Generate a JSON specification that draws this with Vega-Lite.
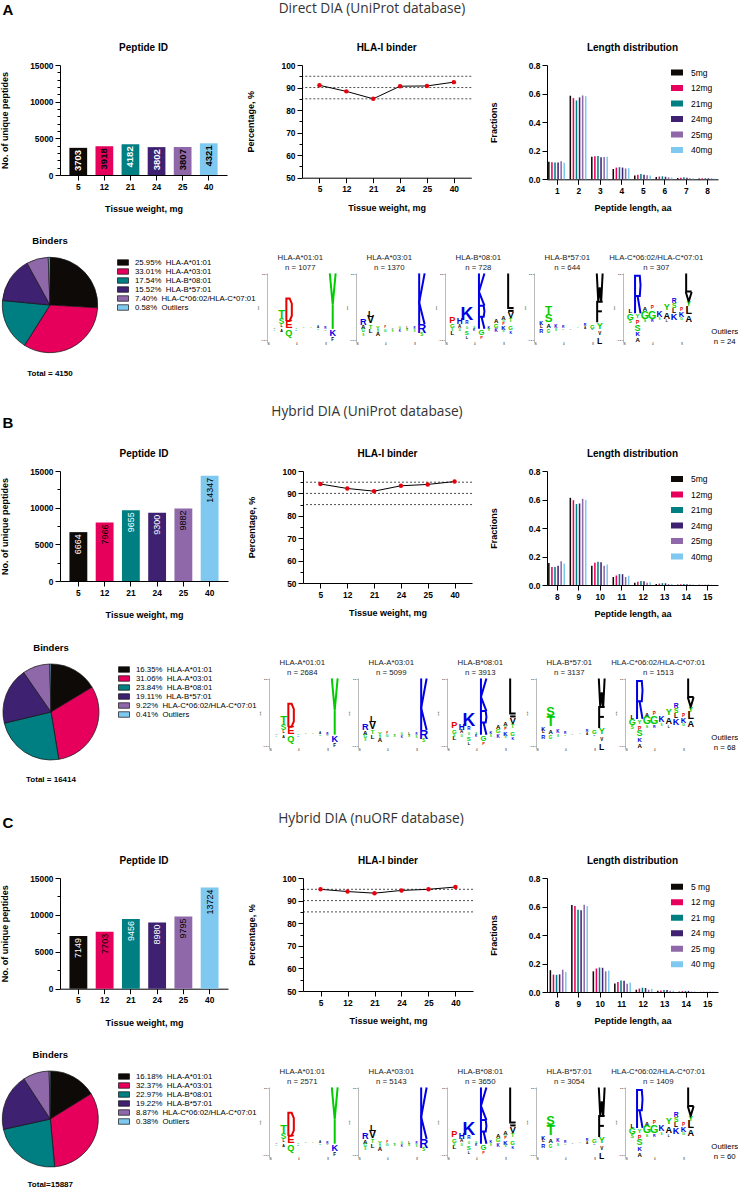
{"$schema":"https://vega.github.io/schema/vega-lite/v6.json","padding":0,"background":"white","spacing":0,"bounds":"flush","resolve":{"scale":{"color":"independent","fill":"independent","size":"independent"},"legend":{"color":"independent","fill":"independent"}},
"config":{"view":{"stroke":null},"font":"Liberation Sans","axis":{"grid":false,"labelFont":"Liberation Sans","labelFontWeight":"bold","labelFontSize":8.4,"labelColor":"black","titleFont":"Liberation Sans","titleFontWeight":"bold","titleFontSize":9,"titleColor":"black","domainColor":"black","tickColor":"black","tickSize":5,"labelPadding":2,"labelOverlap":false},"axisX":{"labelAngle":0},"style":{"lx":{"tickSize":0,"domain":false,"labelFontSize":2.8,"labelFontWeight":"normal","labelPadding":0.5},"ly":{"titleFontSize":2.5,"titleFontWeight":"normal","titlePadding":0.5,"tickSize":1.5,"tickColor":"#777","domainColor":"#777","tickWidth":0.5,"domainWidth":0.5,"labelFontSize":2.5,"labelFontWeight":"normal","labelPadding":0.5}},"title":{"font":"Liberation Sans","fontSize":10,"fontWeight":"bold","color":"black","anchor":"middle"},"legend":{"labelFont":"Liberation Sans","labelColor":"black"},"text":{"font":"Liberation Sans","color":"black"}},
"datasets":{
"pepA":[{"w":5,"v":3703},{"w":12,"v":3918},{"w":21,"v":4182},{"w":24,"v":3802},{"w":25,"v":3807},{"w":40,"v":4321}],
"pepB":[{"w":5,"v":6664},{"w":12,"v":7966},{"w":21,"v":9655},{"w":24,"v":9300},{"w":25,"v":9882},{"w":40,"v":14347}],
"pepC":[{"w":5,"v":7149},{"w":12,"v":7703},{"w":21,"v":9456},{"w":24,"v":8980},{"w":25,"v":9795},{"w":40,"v":13724}],
"hlaA":[{"w":5,"v":91},{"w":12,"v":88.3},{"w":21,"v":85},{"w":24,"v":90.6},{"w":25,"v":90.7},{"w":40,"v":92.4}],
"hlaB":[{"w":5,"v":94.2},{"w":12,"v":92.2},{"w":21,"v":91},{"w":24,"v":93.4},{"w":25,"v":94},{"w":40,"v":95.3}],
"hlaC":[{"w":5,"v":95},{"w":12,"v":94},{"w":21,"v":93.3},{"w":24,"v":94.5},{"w":25,"v":95},{"w":40,"v":96}],
"cut":[{"v":85},{"v":90},{"v":95}],
"lenA":[
{"l":1,"g":"5mg","v":0.122},{"l":1,"g":"12mg","v":0.12},{"l":1,"g":"21mg","v":0.118},{"l":1,"g":"24mg","v":0.118},{"l":1,"g":"25mg","v":0.126},{"l":1,"g":"40mg","v":0.116},
{"l":2,"g":"5mg","v":0.585},{"l":2,"g":"12mg","v":0.568},{"l":2,"g":"21mg","v":0.552},{"l":2,"g":"24mg","v":0.573},{"l":2,"g":"25mg","v":0.587},{"l":2,"g":"40mg","v":0.582},
{"l":3,"g":"5mg","v":0.158},{"l":3,"g":"12mg","v":0.162},{"l":3,"g":"21mg","v":0.163},{"l":3,"g":"24mg","v":0.155},{"l":3,"g":"25mg","v":0.156},{"l":3,"g":"40mg","v":0.158},
{"l":4,"g":"5mg","v":0.072},{"l":4,"g":"12mg","v":0.082},{"l":4,"g":"21mg","v":0.085},{"l":4,"g":"24mg","v":0.082},{"l":4,"g":"25mg","v":0.076},{"l":4,"g":"40mg","v":0.078},
{"l":5,"g":"5mg","v":0.026},{"l":5,"g":"12mg","v":0.032},{"l":5,"g":"21mg","v":0.037},{"l":5,"g":"24mg","v":0.032},{"l":5,"g":"25mg","v":0.028},{"l":5,"g":"40mg","v":0.027},
{"l":6,"g":"5mg","v":0.016},{"l":6,"g":"12mg","v":0.019},{"l":6,"g":"21mg","v":0.021},{"l":6,"g":"24mg","v":0.018},{"l":6,"g":"25mg","v":0.014},{"l":6,"g":"40mg","v":0.013},
{"l":7,"g":"5mg","v":0.009},{"l":7,"g":"12mg","v":0.011},{"l":7,"g":"21mg","v":0.014},{"l":7,"g":"24mg","v":0.011},{"l":7,"g":"25mg","v":0.008},{"l":7,"g":"40mg","v":0.008},
{"l":8,"g":"5mg","v":0.006},{"l":8,"g":"12mg","v":0.007},{"l":8,"g":"21mg","v":0.008},{"l":8,"g":"24mg","v":0.007},{"l":8,"g":"25mg","v":0.006},{"l":8,"g":"40mg","v":0.006}],
"lenB":[
{"l":8,"g":"5mg","v":0.155},{"l":8,"g":"12mg","v":0.127},{"l":8,"g":"21mg","v":0.127},{"l":8,"g":"24mg","v":0.135},{"l":8,"g":"25mg","v":0.167},{"l":8,"g":"40mg","v":0.15},
{"l":9,"g":"5mg","v":0.612},{"l":9,"g":"12mg","v":0.595},{"l":9,"g":"21mg","v":0.568},{"l":9,"g":"24mg","v":0.572},{"l":9,"g":"25mg","v":0.605},{"l":9,"g":"40mg","v":0.597},
{"l":10,"g":"5mg","v":0.135},{"l":10,"g":"12mg","v":0.157},{"l":10,"g":"21mg","v":0.163},{"l":10,"g":"24mg","v":0.16},{"l":10,"g":"25mg","v":0.135},{"l":10,"g":"40mg","v":0.143},
{"l":11,"g":"5mg","v":0.056},{"l":11,"g":"12mg","v":0.067},{"l":11,"g":"21mg","v":0.077},{"l":11,"g":"24mg","v":0.076},{"l":11,"g":"25mg","v":0.056},{"l":11,"g":"40mg","v":0.065},
{"l":12,"g":"5mg","v":0.016},{"l":12,"g":"12mg","v":0.023},{"l":12,"g":"21mg","v":0.028},{"l":12,"g":"24mg","v":0.027},{"l":12,"g":"25mg","v":0.016},{"l":12,"g":"40mg","v":0.02},
{"l":13,"g":"5mg","v":0.007},{"l":13,"g":"12mg","v":0.01},{"l":13,"g":"21mg","v":0.013},{"l":13,"g":"24mg","v":0.012},{"l":13,"g":"25mg","v":0.007},{"l":13,"g":"40mg","v":0.008},
{"l":14,"g":"5mg","v":0.003},{"l":14,"g":"12mg","v":0.005},{"l":14,"g":"21mg","v":0.007},{"l":14,"g":"24mg","v":0.006},{"l":14,"g":"25mg","v":0.003},{"l":14,"g":"40mg","v":0.004},
{"l":15,"g":"5mg","v":0.001},{"l":15,"g":"12mg","v":0.001},{"l":15,"g":"21mg","v":0.002},{"l":15,"g":"24mg","v":0.002},{"l":15,"g":"25mg","v":0.001},{"l":15,"g":"40mg","v":0.001}],
"lenC":[
{"l":8,"g":"5 mg","v":0.153},{"l":8,"g":"12 mg","v":0.122},{"l":8,"g":"21 mg","v":0.12},{"l":8,"g":"24 mg","v":0.124},{"l":8,"g":"25 mg","v":0.156},{"l":8,"g":"40 mg","v":0.14},
{"l":9,"g":"5 mg","v":0.61},{"l":9,"g":"12 mg","v":0.603},{"l":9,"g":"21 mg","v":0.578},{"l":9,"g":"24 mg","v":0.574},{"l":9,"g":"25 mg","v":0.612},{"l":9,"g":"40 mg","v":0.603},
{"l":10,"g":"5 mg","v":0.145},{"l":10,"g":"12 mg","v":0.165},{"l":10,"g":"21 mg","v":0.172},{"l":10,"g":"24 mg","v":0.17},{"l":10,"g":"25 mg","v":0.145},{"l":10,"g":"40 mg","v":0.15},
{"l":11,"g":"5 mg","v":0.06},{"l":11,"g":"12 mg","v":0.07},{"l":11,"g":"21 mg","v":0.08},{"l":11,"g":"24 mg","v":0.079},{"l":11,"g":"25 mg","v":0.058},{"l":11,"g":"40 mg","v":0.066},
{"l":12,"g":"5 mg","v":0.016},{"l":12,"g":"12 mg","v":0.024},{"l":12,"g":"21 mg","v":0.03},{"l":12,"g":"24 mg","v":0.028},{"l":12,"g":"25 mg","v":0.016},{"l":12,"g":"40 mg","v":0.022},
{"l":13,"g":"5 mg","v":0.008},{"l":13,"g":"12 mg","v":0.011},{"l":13,"g":"21 mg","v":0.014},{"l":13,"g":"24 mg","v":0.014},{"l":13,"g":"25 mg","v":0.008},{"l":13,"g":"40 mg","v":0.009},
{"l":14,"g":"5 mg","v":0.003},{"l":14,"g":"12 mg","v":0.006},{"l":14,"g":"21 mg","v":0.008},{"l":14,"g":"24 mg","v":0.008},{"l":14,"g":"25 mg","v":0.003},{"l":14,"g":"40 mg","v":0.004},
{"l":15,"g":"5 mg","v":0.001},{"l":15,"g":"12 mg","v":0.001},{"l":15,"g":"21 mg","v":0.002},{"l":15,"g":"24 mg","v":0.002},{"l":15,"g":"25 mg","v":0.001},{"l":15,"g":"40 mg","v":0.001}],
"pieA":[{"i":1,"a":"25.95% \u00a0HLA-A*01:01","v":25.95},{"i":2,"a":"33.01% \u00a0HLA-A*03:01","v":33.01},{"i":3,"a":"17.54% \u00a0HLA-B*08:01","v":17.54},{"i":4,"a":"15.52% \u00a0HLA-B*57:01","v":15.52},{"i":5,"a":"7.40% \u00a0HLA-C*06:02/HLA-C*07:01","v":7.4},{"i":6,"a":"0.58% \u00a0Outliers","v":0.58}],
"pieB":[{"i":1,"a":"16.35% \u00a0HLA-A*01:01","v":16.35},{"i":2,"a":"31.06% \u00a0HLA-A*03:01","v":31.06},{"i":3,"a":"23.84% \u00a0HLA-B*08:01","v":23.84},{"i":4,"a":"19.11% \u00a0HLA-B*57:01","v":19.11},{"i":5,"a":"9.22% \u00a0HLA-C*06:02/HLA-C*07:01","v":9.22},{"i":6,"a":"0.41% \u00a0Outliers","v":0.41}],
"pieC":[{"i":1,"a":"16.18% \u00a0HLA-A*01:01","v":16.18},{"i":2,"a":"32.37% \u00a0HLA-A*03:01","v":32.37},{"i":3,"a":"22.97% \u00a0HLA-B*08:01","v":22.97},{"i":4,"a":"19.22% \u00a0HLA-B*57:01","v":19.22},{"i":5,"a":"8.87% \u00a0HLA-C*06:02/HLA-C*07:01","v":8.87},{"i":6,"a":"0.38% \u00a0Outliers","v":0.38}],
"logoPath":[
{"k":"L1","g":"Y1","t":"Y","x":8.6,"y":2.53},{"k":"L1","g":"Y1","t":"Y","x":9,"y":1.1},{"k":"L1","g":"Y1","t":"Y","x":9.4,"y":2.53},{"k":"L1","g":"Y2","t":"Y","x":9,"y":1.1},{"k":"L1","g":"Y2","t":"Y","x":9,"y":0},
{"k":"L1","g":"D1","t":"D","x":2.65,"y":0.36},{"k":"L1","g":"D1","t":"D","x":2.65,"y":1.39},{"k":"L1","g":"D1","t":"D","x":3.1,"y":1.39},{"k":"L1","g":"D1","t":"D","x":3.4,"y":1.15},{"k":"L1","g":"D1","t":"D","x":3.4,"y":0.6},{"k":"L1","g":"D1","t":"D","x":3.1,"y":0.36},{"k":"L1","g":"D1","t":"D","x":2.65,"y":0.36},
{"k":"L2","g":"K1","t":"K","x":8.65,"y":0.21},{"k":"L2","g":"K1","t":"K","x":8.65,"y":2.53},{"k":"L2","g":"K2","t":"K","x":9.4,"y":2.53},{"k":"L2","g":"K2","t":"K","x":8.65,"y":1.2},{"k":"L2","g":"K2","t":"K","x":9.4,"y":0.21},
{"k":"L3","g":"K1","t":"K","x":4.65,"y":1.06},{"k":"L3","g":"K1","t":"K","x":4.65,"y":2.53},{"k":"L3","g":"K2","t":"K","x":5.4,"y":2.53},{"k":"L3","g":"K2","t":"K","x":4.65,"y":1.7},{"k":"L3","g":"K2","t":"K","x":5.4,"y":1.06},
{"k":"L3","g":"R1","t":"R","x":4.65,"y":0},{"k":"L3","g":"R1","t":"R","x":4.65,"y":1.06},{"k":"L3","g":"R1","t":"R","x":5.3,"y":1.06},{"k":"L3","g":"R1","t":"R","x":5.4,"y":0.8},{"k":"L3","g":"R1","t":"R","x":5.3,"y":0.55},{"k":"L3","g":"R1","t":"R","x":4.65,"y":0.55},{"k":"L3","g":"R2","t":"R","x":5,"y":0.55},{"k":"L3","g":"R2","t":"R","x":5.4,"y":0},
{"k":"L3","g":"L1","t":"L","x":8.65,"y":2.53},{"k":"L3","g":"L1","t":"L","x":8.65,"y":0.95},{"k":"L3","g":"L1","t":"L","x":9.4,"y":0.95},{"k":"L3","g":"L2","t":"L","x":8.65,"y":0.82},{"k":"L3","g":"L2","t":"L","x":9.4,"y":0.82},
{"k":"L4","g":"W1","t":"W","x":8.6,"y":2.53},{"k":"L4","g":"W1","t":"W","x":8.8,"y":1.24},{"k":"L4","g":"W1","t":"W","x":9,"y":1.9},{"k":"L4","g":"W1","t":"W","x":9.2,"y":1.24},{"k":"L4","g":"W1","t":"W","x":9.4,"y":2.53},
{"k":"L4","g":"F1","t":"F","x":8.65,"y":0.3},{"k":"L4","g":"F1","t":"F","x":8.65,"y":1.24},{"k":"L4","g":"F1","t":"F","x":9.4,"y":1.24},{"k":"L4","g":"F2","t":"F","x":8.65,"y":0.8},{"k":"L4","g":"F2","t":"F","x":9.3,"y":0.8},
{"k":"L5","g":"R1","t":"R","x":1.65,"y":0.71},{"k":"L5","g":"R1","t":"R","x":1.65,"y":2.42},{"k":"L5","g":"R1","t":"R","x":2.3,"y":2.42},{"k":"L5","g":"R1","t":"R","x":2.4,"y":2},{"k":"L5","g":"R1","t":"R","x":2.3,"y":1.5},{"k":"L5","g":"R1","t":"R","x":1.65,"y":1.5},{"k":"L5","g":"R2","t":"R","x":2,"y":1.5},{"k":"L5","g":"R2","t":"R","x":2.4,"y":0.71},
{"k":"L5","g":"L1","t":"L","x":8.65,"y":2.53},{"k":"L5","g":"L1","t":"L","x":8.65,"y":1.7},{"k":"L5","g":"L1","t":"L","x":9.4,"y":1.7},{"k":"L5","g":"V1","t":"V","x":8.6,"y":1.68},{"k":"L5","g":"V1","t":"V","x":9,"y":1.24},{"k":"L5","g":"V1","t":"V","x":9.4,"y":1.68}],
"logoText":[
{"k":"L1","p":2,"b":0.63,"t":"T","h":0.37},{"k":"L1","p":2,"b":0.31,"t":"S","h":0.27},{"k":"L1","p":2,"b":0.12,"t":"L","h":0.12},{"k":"L1","p":3,"b":0.18,"t":"E","h":0.36},{"k":"L1","p":3,"b":-0.2,"t":"Q","h":0.3},{"k":"L1","p":2,"b":-0.1,"t":"A","h":0.12},{"k":"L1","p":1,"b":0.03,"t":"A","h":0.08},{"k":"L1","p":1,"b":-0.04,"t":"G","h":0.06},{"k":"L1","p":4,"b":0.03,"t":"S","h":0.07},{"k":"L1","p":4,"b":-0.03,"t":"K","h":0.06},{"k":"L1","p":5,"b":0.02,"t":"N","h":0.05},{"k":"L1","p":6,"b":0.02,"t":"G","h":0.05},{"k":"L1","p":7,"b":0.08,"t":"A","h":0.1},{"k":"L1","p":7,"b":-0.03,"t":"S","h":0.08},{"k":"L1","p":8,"b":0.06,"t":"R","h":0.1},{"k":"L1","p":8,"b":-0.04,"t":"G","h":0.08},{"k":"L1","p":9,"b":-0.2,"t":"K","h":0.3},{"k":"L1","p":9,"b":-0.5,"t":"F","h":0.15},
{"k":"L2","p":1,"b":0.33,"t":"R","h":0.3},{"k":"L2","p":1,"b":0.07,"t":"A","h":0.2},{"k":"L2","p":1,"b":-0.1,"t":"G","h":0.15},{"k":"L2","p":1,"b":-0.25,"t":"S","h":0.1},{"k":"L2","p":2,"b":0.7,"t":"L","h":0.28},{"k":"L2","p":2,"b":0.39,"t":"V","h":0.35},{"k":"L2","p":2,"b":0.1,"t":"T","h":0.2},{"k":"L2","p":2,"b":-0.1,"t":"L","h":0.2},{"k":"L2","p":3,"b":0.05,"t":"Y","h":0.18},{"k":"L2","p":3,"b":-0.25,"t":"A","h":0.2},{"k":"L2","p":3,"b":-0.08,"t":"S","h":0.1},{"k":"L2","p":4,"b":0.04,"t":"P","h":0.09},{"k":"L2","p":4,"b":-0.08,"t":"G","h":0.12},{"k":"L2","p":5,"b":0.02,"t":"A","h":0.08},{"k":"L2","p":5,"b":-0.07,"t":"S","h":0.1},{"k":"L2","p":6,"b":0.03,"t":"G","h":0.09},{"k":"L2","p":6,"b":-0.08,"t":"K","h":0.1},{"k":"L2","p":7,"b":0.06,"t":"L","h":0.1},{"k":"L2","p":7,"b":-0.06,"t":"S","h":0.1},{"k":"L2","p":8,"b":0.02,"t":"R","h":0.09},{"k":"L2","p":8,"b":-0.1,"t":"S","h":0.1},{"k":"L2","p":9,"b":0,"t":"R","h":0.41},{"k":"L2","p":9,"b":-0.3,"t":"S","h":0.15},
{"k":"L3","p":1,"b":0.42,"t":"P","h":0.3},{"k":"L3","p":1,"b":0.14,"t":"G","h":0.2},{"k":"L3","p":1,"b":-0.17,"t":"L","h":0.2},{"k":"L3","p":1,"b":-0.05,"t":"S","h":0.1},{"k":"L3","p":2,"b":0.3,"t":"H","h":0.27},{"k":"L3","p":2,"b":0.1,"t":"A","h":0.15},{"k":"L3","p":2,"b":-0.05,"t":"G","h":0.1},{"k":"L3","p":3,"b":0.62,"t":"K","h":0.58},{"k":"L3","p":3,"b":0.27,"t":"R","h":0.15},{"k":"L3","p":3,"b":0.05,"t":"G","h":0.1},{"k":"L3","p":3,"b":-0.2,"t":"S","h":0.2},{"k":"L3","p":3,"b":-0.4,"t":"L","h":0.13},{"k":"L3","p":4,"b":0.05,"t":"S","h":0.1},{"k":"L3","p":4,"b":-0.05,"t":"K","h":0.1},{"k":"L3","p":5,"b":-0.2,"t":"G","h":0.25},{"k":"L3","p":5,"b":-0.4,"t":"P","h":0.13},{"k":"L3","p":6,"b":0.06,"t":"K","h":0.12},{"k":"L3","p":6,"b":-0.06,"t":"S","h":0.1},{"k":"L3","p":7,"b":0.35,"t":"A","h":0.2},{"k":"L3","p":7,"b":0.15,"t":"G","h":0.2},{"k":"L3","p":7,"b":-0.1,"t":"K","h":0.15},{"k":"L3","p":8,"b":0.5,"t":"A","h":0.2},{"k":"L3","p":8,"b":0.35,"t":"G","h":0.1},{"k":"L3","p":8,"b":0.24,"t":"P","h":0.12},{"k":"L3","p":8,"b":0.05,"t":"K","h":0.2},{"k":"L3","p":8,"b":-0.1,"t":"S","h":0.1},{"k":"L3","p":9,"b":0.62,"t":"V","h":0.3},{"k":"L3","p":9,"b":0.4,"t":"T","h":0.2},{"k":"L3","p":9,"b":0.05,"t":"G","h":0.2},{"k":"L3","p":9,"b":-0.2,"t":"K","h":0.12},
{"k":"L4","p":9,"b":0.15,"t":"Y","h":0.3},{"k":"L4","p":9,"b":-0.25,"t":"V","h":0.15},{"k":"L4","p":9,"b":-0.55,"t":"L","h":0.28},{"k":"L4","p":2,"b":0.13,"t":"A","h":0.2},{"k":"L4","p":2,"b":-0.15,"t":"G","h":0.15},{"k":"L4","p":1,"b":0.27,"t":"K","h":0.18},{"k":"L4","p":1,"b":0.1,"t":"L","h":0.15},{"k":"L4","p":1,"b":-0.1,"t":"R","h":0.18},{"k":"L4","p":3,"b":0.1,"t":"K","h":0.15},{"k":"L4","p":3,"b":-0.05,"t":"S","h":0.1},{"k":"L4","p":4,"b":0.08,"t":"R","h":0.11},{"k":"L4","p":4,"b":-0.03,"t":"G","h":0.08},{"k":"L4","p":5,"b":0.03,"t":"A","h":0.06},{"k":"L4","p":6,"b":0.02,"t":"S","h":0.05},{"k":"L4","p":7,"b":0.18,"t":"R","h":0.12},{"k":"L4","p":7,"b":0.03,"t":"A","h":0.1},{"k":"L4","p":8,"b":0.1,"t":"G","h":0.2},{"k":"L4","p":8,"b":-0.03,"t":"K","h":0.08},
{"k":"L4a","p":2,"b":0.82,"t":"T","h":0.38},{"k":"L4a","p":2,"b":0.45,"t":"S","h":0.38},
{"k":"L4b","p":2,"b":1,"t":"S","h":0.42},{"k":"L4b","p":2,"b":0.55,"t":"T","h":0.45},
{"k":"L5","p":1,"b":0.8,"t":"L","h":0.2},{"k":"L5","p":1,"b":0.55,"t":"G","h":0.3},{"k":"L5","p":1,"b":0.3,"t":"S","h":0.15},{"k":"L5","p":2,"b":0.59,"t":"Y","h":0.2},{"k":"L5","p":2,"b":0.3,"t":"P","h":0.18},{"k":"L5","p":2,"b":0.06,"t":"S","h":0.3},{"k":"L5","p":2,"b":-0.25,"t":"K","h":0.2},{"k":"L5","p":2,"b":-0.5,"t":"A","h":0.2},{"k":"L5","p":3,"b":0.9,"t":"A","h":0.2},{"k":"L5","p":3,"b":0.6,"t":"G","h":0.35},{"k":"L5","p":3,"b":0.35,"t":"S","h":0.12},{"k":"L5","p":4,"b":0.93,"t":"P","h":0.15},{"k":"L5","p":4,"b":0.6,"t":"G","h":0.35},{"k":"L5","p":4,"b":0.35,"t":"R","h":0.12},{"k":"L5","p":5,"b":0.65,"t":"K","h":0.27},{"k":"L5","p":5,"b":0.45,"t":"S","h":0.1},{"k":"L5","p":6,"b":1,"t":"Y","h":0.3},{"k":"L5","p":6,"b":0.6,"t":"A","h":0.3},{"k":"L5","p":6,"b":0.35,"t":"L","h":0.1},{"k":"L5","p":7,"b":1.28,"t":"R","h":0.22},{"k":"L5","p":7,"b":1.05,"t":"S","h":0.22},{"k":"L5","p":7,"b":0.82,"t":"L","h":0.22},{"k":"L5","p":7,"b":0.55,"t":"K","h":0.3},{"k":"L5","p":8,"b":0.86,"t":"P","h":0.15},{"k":"L5","p":8,"b":0.62,"t":"K","h":0.25},{"k":"L5","p":8,"b":0.45,"t":"G","h":0.12},{"k":"L5","p":9,"b":1.13,"t":"Y","h":0.22},{"k":"L5","p":9,"b":0.82,"t":"L","h":0.35},{"k":"L5","p":9,"b":0.47,"t":"A","h":0.3}]
},
"vconcat":[
{"bounds":"flush","spacing":0,"hconcat":[
{"width":20,"height":20,"data":{"values":[{"t":"A"}]},"mark":{"type":"text","fontSize":15,"fontWeight":"bold","dx":-3},"encoding":{"text":{"field":"t","type":"nominal"}}},
{"width":702,"height":20,"data":{"values":[{"t":"Direct DIA (UniProt database)"}]},"mark":{"type":"text","font":"Open Sans","fontSize":13.7,"color":"#333","dy":-1.5},"encoding":{"text":{"field":"t","type":"nominal"}}}]},
{"width":1,"height":65,"data":{"values":[]},"mark":"text"},
{"bounds":"flush","spacing":0,"resolve":{"scale":{"color":"independent","fill":"independent","size":"independent"},"legend":{"color":"independent","fill":"independent"}},"hconcat":[
{"width":59,"height":10,"data":{"values":[]},"mark":"text"},
{"width":167,"height":110,"title":{"text":"Peptide ID","offset":8.5},"data":{"name":"pepA"},"encoding":{"x":{"field":"w","type":"ordinal","scale":{"paddingInner":0.32,"paddingOuter":0.36},"axis":{"title":"Tissue weight, mg","titlePadding":14}},"y":{"field":"v","type":"quantitative","scale":{"domain":[0,15000],"nice":false},"axis":{"title":"No. of unique peptides","titlePadding":20,"values":[0,1000,2000,3000,4000,5000,6000,7000,8000,9000,10000,11000,12000,13000,14000,15000],"labelExpr":"datum.value%5000==0?''+datum.value:''","tickSize":{"condition":{"test":"datum.value%5000==0","value":5},"value":3}}}},"layer":[{"mark":"bar","encoding":{"color":{"field":"w","type":"ordinal","scale":{"domain":[5,12,21,24,25,40],"range":["#0d0a07","#e6005c","#007f83","#3f2172","#8e68a9","#7fc8f0"]},"legend":null}}},{"mark":{"type":"text","angle":270,"align":"right","baseline":"middle","dx":-2,"fontSize":9.5,"fontWeight":"bold"},"encoding":{"text":{"field":"v","type":"quantitative","format":"d"},"color":{"condition":{"test":"indexof([5,21,24],datum.w)>=0","value":"white"},"value":"black"}}}]},
{"width":74.7,"height":10,"data":{"values":[]},"mark":"text"},
{"width":169.3,"height":112.7,"title":{"text":"HLA-I binder","offset":8},"encoding":{"y":{"field":"v","type":"quantitative","scale":{"domain":[50,100],"nice":false},"axis":{"title":"Percentage, %","titlePadding":26,"values":[50,55,60,65,70,75,80,85,90,95,100],"labelExpr":"datum.value%10==0?''+datum.value:''","tickSize":{"condition":{"test":"datum.value%10==0","value":5},"value":3}}}},"layer":[{"data":{"name":"cut"},"mark":{"type":"rule","strokeDash":[2,2],"strokeWidth":0.7,"color":"black"},"encoding":{}},{"data":{"name":"hlaA"},"mark":{"type":"line","color":"black","strokeWidth":1},"encoding":{"x":{"field":"w","type":"ordinal","scale":{"type":"point","padding":0.65},"axis":{"title":"Tissue weight, mg","titlePadding":10}}}},{"data":{"name":"hlaA"},"mark":{"type":"point","filled":true,"color":"#e8000f","size":20,"opacity":1},"encoding":{"x":{"field":"w","type":"ordinal"}}}]},
{"width":75,"height":10,"data":{"values":[]},"mark":"text"},
{"width":171,"height":114.3,"title":{"text":"Length distribution","offset":8},"data":{"name":"lenA"},"mark":"bar","encoding":{"x":{"field":"l","type":"ordinal","scale":{"paddingInner":0.14,"paddingOuter":0.05},"axis":{"title":"Peptide length, aa","titlePadding":9}},"xOffset":{"field":"g","type":"nominal","sort":["5mg","12mg","21mg","24mg","25mg","40mg"],"scale":{"paddingInner":0,"paddingOuter":0}},"y":{"field":"v","type":"quantitative","scale":{"domain":[0,0.8],"nice":false},"axis":{"title":"Fractions","titlePadding":30,"values":[0,0.2,0.4,0.6,0.8],"format":".1f"}},"color":{"field":"g","type":"nominal","scale":{"domain":["5mg","12mg","21mg","24mg","25mg","40mg"],"range":["#0d0a07","#e6005c","#007f83","#3f2172","#8e68a9","#7fc8f0"]},"legend":{"orient":"none","legendX":123,"legendY":1.5,"title":null,"symbolType":"M-1,-0.5H1V0.5H-1Z","symbolSize":144,"clipHeight":12,"rowPadding":3.5,"labelFontSize":8.5,"labelOffset":7}}}}]},
{"width":1,"height":191,"data":{"values":[]},"mark":"text"},
{"bounds":"flush","spacing":0,"resolve":{"scale":{"color":"independent","fill":"independent","size":"independent"},"legend":{"color":"independent","fill":"independent"}},"hconcat":[
{"width":98,"height":98,"title":{"text":"Binders","offset":10,"fontSize":9.5},"layer":[{"data":{"name":"pieA"},"mark":{"type":"arc","filled":true,"outerRadius":47.7,"stroke":"#111","strokeWidth":0.7},"encoding":{"theta":{"field":"v","type":"quantitative"},"order":{"field":"i","type":"quantitative"},"fill":{"field":"a","type":"nominal","scale":{"domain":["25.95% \u00a0HLA-A*01:01","33.01% \u00a0HLA-A*03:01","17.54% \u00a0HLA-B*08:01","15.52% \u00a0HLA-B*57:01","7.40% \u00a0HLA-C*06:02/HLA-C*07:01","0.58% \u00a0Outliers"],"range":["#0d0a07","#e6005c","#007f83","#3f2172","#8e68a9","#7fc8f0"]},"legend":{"orient":"none","legendX":116,"legendY":2,"title":null,"symbolType":"M-1,-0.5H1V0.5H-1Z","symbolSize":121,"clipHeight":9,"rowPadding":0,"labelFontSize":7.8,"labelOffset":6,"labelLimit":200,"symbolStrokeColor":"#111","symbolStrokeWidth":0.7}}}},{"data":{"values":[{"t":"Total = 4150"}]},"mark":{"type":"text","dy":69,"fontSize":8,"fontWeight":"bold"},"encoding":{"text":{"field":"t","type":"nominal"}}}]}]},
{"width":1,"height":17,"data":{"values":[]},"mark":"text"},
{"bounds":"flush","spacing":0,"resolve":{"scale":{"color":"independent","fill":"independent","size":"independent"},"legend":{"color":"independent","fill":"independent"}},"hconcat":[
{"width":266,"height":10,"data":{"values":[]},"mark":"text"},
{"width":88.5,"height":69,"title":{"text":["HLA-A*01:01","n = 1077"],"dx":-11,"offset":-2,"fontSize":7.8,"fontWeight":"normal","lineHeight":9.5,"color":"#222"},"encoding":{"color":{"field":"t","type":"nominal","scale":{"domain":["K","R","H","D","E","P","S","T","Y","G","N","Q","A","L","V","F","W"],"range":["#0000e6","#0000e6","#0000e6","#e60000","#e60000","#e60000","#00cc00","#00cc00","#00cc00","#00cc00","#00cc00","#00cc00","black","black","black","black","black"]},"legend":null}},"layer":[{"data":{"name":"logoPath"},"transform":[{"filter":{"field":"k","equal":"L1"}}],"mark":{"type":"line","strokeWidth":2},"encoding":{"x":{"field":"x","type":"quantitative","scale":{"domain":[0,12.12],"nice":false},"axis":{"style":"lx","title":null,"values":[0,1,2,3,4,5,6,7,8,9,10],"labelExpr":"datum.value==0?'N':datum.value==10?'C':datum.label"}},"y":{"field":"y","type":"quantitative","scale":{"domain":[-0.6,2.55],"nice":false},"axis":{"style":"ly","title":"Bits","values":[-0.5,0,0.5,1,1.5,2,2.5],"format":".1f"}},"detail":{"field":"g","type":"nominal"},"order":{"value":null}}},{"data":{"name":"logoText"},"transform":[{"filter":{"field":"k","oneOf":["L1"]}}],"mark":{"type":"text","fontWeight":"bold","baseline":"middle"},"encoding":{"x":{"field":"p","type":"quantitative"},"y":{"field":"b","type":"quantitative"},"text":{"field":"t","type":"nominal"},"size":{"field":"h","type":"quantitative","scale":{"domain":[0,1],"range":[0,30.5]},"legend":null}}}]},
{"width":88.5,"height":69,"title":{"text":["HLA-A*03:01","n = 1370"],"dx":-11,"offset":-2,"fontSize":7.8,"fontWeight":"normal","lineHeight":9.5,"color":"#222"},"encoding":{"color":{"field":"t","type":"nominal","scale":{"domain":["K","R","H","D","E","P","S","T","Y","G","N","Q","A","L","V","F","W"],"range":["#0000e6","#0000e6","#0000e6","#e60000","#e60000","#e60000","#00cc00","#00cc00","#00cc00","#00cc00","#00cc00","#00cc00","black","black","black","black","black"]},"legend":null}},"layer":[{"data":{"name":"logoPath"},"transform":[{"filter":{"field":"k","equal":"L2"}}],"mark":{"type":"line","strokeWidth":2},"encoding":{"x":{"field":"x","type":"quantitative","scale":{"domain":[0,12.12],"nice":false},"axis":{"style":"lx","title":null,"values":[0,1,2,3,4,5,6,7,8,9,10],"labelExpr":"datum.value==0?'N':datum.value==10?'C':datum.label"}},"y":{"field":"y","type":"quantitative","scale":{"domain":[-0.6,2.55],"nice":false},"axis":{"style":"ly","title":"Bits","values":[-0.5,0,0.5,1,1.5,2,2.5],"format":".1f"}},"detail":{"field":"g","type":"nominal"},"order":{"value":null}}},{"data":{"name":"logoText"},"transform":[{"filter":{"field":"k","oneOf":["L2"]}}],"mark":{"type":"text","fontWeight":"bold","baseline":"middle"},"encoding":{"x":{"field":"p","type":"quantitative"},"y":{"field":"b","type":"quantitative"},"text":{"field":"t","type":"nominal"},"size":{"field":"h","type":"quantitative","scale":{"domain":[0,1],"range":[0,30.5]},"legend":null}}}]},
{"width":88.5,"height":69,"title":{"text":["HLA-B*08:01","n = 728"],"dx":-11,"offset":-2,"fontSize":7.8,"fontWeight":"normal","lineHeight":9.5,"color":"#222"},"encoding":{"color":{"field":"t","type":"nominal","scale":{"domain":["K","R","H","D","E","P","S","T","Y","G","N","Q","A","L","V","F","W"],"range":["#0000e6","#0000e6","#0000e6","#e60000","#e60000","#e60000","#00cc00","#00cc00","#00cc00","#00cc00","#00cc00","#00cc00","black","black","black","black","black"]},"legend":null}},"layer":[{"data":{"name":"logoPath"},"transform":[{"filter":{"field":"k","equal":"L3"}}],"mark":{"type":"line","strokeWidth":2},"encoding":{"x":{"field":"x","type":"quantitative","scale":{"domain":[0,12.12],"nice":false},"axis":{"style":"lx","title":null,"values":[0,1,2,3,4,5,6,7,8,9,10],"labelExpr":"datum.value==0?'N':datum.value==10?'C':datum.label"}},"y":{"field":"y","type":"quantitative","scale":{"domain":[-0.6,2.55],"nice":false},"axis":{"style":"ly","title":"Bits","values":[-0.5,0,0.5,1,1.5,2,2.5],"format":".1f"}},"detail":{"field":"g","type":"nominal"},"order":{"value":null}}},{"data":{"name":"logoText"},"transform":[{"filter":{"field":"k","oneOf":["L3"]}}],"mark":{"type":"text","fontWeight":"bold","baseline":"middle"},"encoding":{"x":{"field":"p","type":"quantitative"},"y":{"field":"b","type":"quantitative"},"text":{"field":"t","type":"nominal"},"size":{"field":"h","type":"quantitative","scale":{"domain":[0,1],"range":[0,30.5]},"legend":null}}}]},
{"width":88.5,"height":69,"title":{"text":["HLA-B*57:01","n = 644"],"dx":-11,"offset":-2,"fontSize":7.8,"fontWeight":"normal","lineHeight":9.5,"color":"#222"},"encoding":{"color":{"field":"t","type":"nominal","scale":{"domain":["K","R","H","D","E","P","S","T","Y","G","N","Q","A","L","V","F","W"],"range":["#0000e6","#0000e6","#0000e6","#e60000","#e60000","#e60000","#00cc00","#00cc00","#00cc00","#00cc00","#00cc00","#00cc00","black","black","black","black","black"]},"legend":null}},"layer":[{"data":{"name":"logoPath"},"transform":[{"filter":{"field":"k","equal":"L4"}}],"mark":{"type":"line","strokeWidth":2},"encoding":{"x":{"field":"x","type":"quantitative","scale":{"domain":[0,12.12],"nice":false},"axis":{"style":"lx","title":null,"values":[0,1,2,3,4,5,6,7,8,9,10],"labelExpr":"datum.value==0?'N':datum.value==10?'C':datum.label"}},"y":{"field":"y","type":"quantitative","scale":{"domain":[-0.6,2.55],"nice":false},"axis":{"style":"ly","title":"Bits","values":[-0.5,0,0.5,1,1.5,2,2.5],"format":".1f"}},"detail":{"field":"g","type":"nominal"},"order":{"value":null}}},{"data":{"name":"logoText"},"transform":[{"filter":{"field":"k","oneOf":["L4","L4a"]}}],"mark":{"type":"text","fontWeight":"bold","baseline":"middle"},"encoding":{"x":{"field":"p","type":"quantitative"},"y":{"field":"b","type":"quantitative"},"text":{"field":"t","type":"nominal"},"size":{"field":"h","type":"quantitative","scale":{"domain":[0,1],"range":[0,30.5]},"legend":null}}}]},
{"width":88.5,"height":69,"title":{"text":["HLA-C*06:02/HLA-C*07:01","n = 307"],"dx":-11,"offset":-2,"fontSize":7.8,"fontWeight":"normal","lineHeight":9.5,"color":"#222"},"encoding":{"color":{"field":"t","type":"nominal","scale":{"domain":["K","R","H","D","E","P","S","T","Y","G","N","Q","A","L","V","F","W"],"range":["#0000e6","#0000e6","#0000e6","#e60000","#e60000","#e60000","#00cc00","#00cc00","#00cc00","#00cc00","#00cc00","#00cc00","black","black","black","black","black"]},"legend":null}},"layer":[{"data":{"name":"logoPath"},"transform":[{"filter":{"field":"k","equal":"L5"}}],"mark":{"type":"line","strokeWidth":2},"encoding":{"x":{"field":"x","type":"quantitative","scale":{"domain":[0,12.12],"nice":false},"axis":{"style":"lx","title":null,"values":[0,1,2,3,4,5,6,7,8,9,10],"labelExpr":"datum.value==0?'N':datum.value==10?'C':datum.label"}},"y":{"field":"y","type":"quantitative","scale":{"domain":[-0.6,2.55],"nice":false},"axis":{"style":"ly","title":"Bits","values":[-0.5,0,0.5,1,1.5,2,2.5],"format":".1f"}},"detail":{"field":"g","type":"nominal"},"order":{"value":null}}},{"data":{"name":"logoText"},"transform":[{"filter":{"field":"k","oneOf":["L5"]}}],"mark":{"type":"text","fontWeight":"bold","baseline":"middle"},"encoding":{"x":{"field":"p","type":"quantitative"},"y":{"field":"b","type":"quantitative"},"text":{"field":"t","type":"nominal"},"size":{"field":"h","type":"quantitative","scale":{"domain":[0,1],"range":[0,30.5]},"legend":null}}}]},
{"width":29.5,"height":69,"data":{"values":[{"t":"Outliers\nn = 24"}]},"mark":{"type":"text","lineBreak":"\n","fontSize":7.8,"dx":-2,"dy":24.5,"lineHeight":9.5,"baseline":"middle"},"encoding":{"text":{"field":"t","type":"nominal"}}}]},
{"width":1,"height":129,"data":{"values":[]},"mark":"text"},
{"bounds":"flush","spacing":0,"hconcat":[
{"width":20,"height":20,"data":{"values":[{"t":"B"}]},"mark":{"type":"text","fontSize":15,"fontWeight":"bold","dx":-3,"dy":11},"encoding":{"text":{"field":"t","type":"nominal"}}},
{"width":692,"height":20,"data":{"values":[{"t":"Hybrid DIA (UniProt database)"}]},"mark":{"type":"text","font":"Open Sans","fontSize":13.7,"color":"#333"},"encoding":{"text":{"field":"t","type":"nominal"}}}]},
{"width":1,"height":69,"data":{"values":[]},"mark":"text"},
{"bounds":"flush","spacing":0,"resolve":{"scale":{"color":"independent","fill":"independent","size":"independent"},"legend":{"color":"independent","fill":"independent"}},"hconcat":[
{"width":59,"height":10,"data":{"values":[]},"mark":"text"},
{"width":168,"height":110,"title":{"text":"Peptide ID","offset":8.5},"data":{"name":"pepB"},"encoding":{"x":{"field":"w","type":"ordinal","scale":{"paddingInner":0.32,"paddingOuter":0.36},"axis":{"title":"Tissue weight, mg","titlePadding":14}},"y":{"field":"v","type":"quantitative","scale":{"domain":[0,15000],"nice":false},"axis":{"title":"No. of unique peptides","titlePadding":20,"values":[0,2500,5000,7500,10000,12500,15000],"labelExpr":"datum.value%5000==0?''+datum.value:''","tickSize":{"condition":{"test":"datum.value%5000==0","value":5},"value":3}}}},"layer":[{"mark":"bar","encoding":{"color":{"field":"w","type":"ordinal","scale":{"domain":[5,12,21,24,25,40],"range":["#0d0a07","#e6005c","#007f83","#3f2172","#8e68a9","#7fc8f0"]},"legend":null}}},{"mark":{"type":"text","angle":270,"align":"right","baseline":"middle","dx":-2,"fontSize":9},"encoding":{"text":{"field":"v","type":"quantitative","format":"d"},"color":{"condition":{"test":"indexof([5,21,24],datum.w)>=0","value":"white"},"value":"black"}}}]},
{"width":75,"height":10,"data":{"values":[]},"mark":"text"},
{"width":169,"height":112,"title":{"text":"HLA-I binder","offset":8},"encoding":{"y":{"field":"v","type":"quantitative","scale":{"domain":[50,100],"nice":false},"axis":{"title":"Percentage, %","titlePadding":26,"values":[50,55,60,65,70,75,80,85,90,95,100],"labelExpr":"datum.value%10==0?''+datum.value:''","tickSize":{"condition":{"test":"datum.value%10==0","value":5},"value":3}}}},"layer":[{"data":{"name":"cut"},"mark":{"type":"rule","strokeDash":[2,2],"strokeWidth":0.7,"color":"black"},"encoding":{}},{"data":{"name":"hlaB"},"mark":{"type":"line","color":"black","strokeWidth":1},"encoding":{"x":{"field":"w","type":"ordinal","scale":{"type":"point","padding":0.65},"axis":{"title":"Tissue weight, mg","titlePadding":10}}}},{"data":{"name":"hlaB"},"mark":{"type":"point","filled":true,"color":"#e8000f","size":20,"opacity":1},"encoding":{"x":{"field":"w","type":"ordinal"}}}]},
{"width":75,"height":10,"data":{"values":[]},"mark":"text"},
{"width":171,"height":114,"title":{"text":"Length distribution","offset":8},"data":{"name":"lenB"},"mark":"bar","encoding":{"x":{"field":"l","type":"ordinal","scale":{"paddingInner":0.14,"paddingOuter":0.05},"axis":{"title":"Peptide length, aa","titlePadding":9}},"xOffset":{"field":"g","type":"nominal","sort":["5mg","12mg","21mg","24mg","25mg","40mg"],"scale":{"paddingInner":0,"paddingOuter":0}},"y":{"field":"v","type":"quantitative","scale":{"domain":[0,0.8],"nice":false},"axis":{"title":"Fractions","titlePadding":30,"values":[0,0.2,0.4,0.6,0.8],"format":".1f"}},"color":{"field":"g","type":"nominal","scale":{"domain":["5mg","12mg","21mg","24mg","25mg","40mg"],"range":["#0d0a07","#e6005c","#007f83","#3f2172","#8e68a9","#7fc8f0"]},"legend":{"orient":"none","legendX":123,"legendY":2,"title":null,"symbolType":"M-1,-0.5H1V0.5H-1Z","symbolSize":144,"clipHeight":12,"rowPadding":3.5,"labelFontSize":8.5,"labelOffset":7}}}}]},
{"width":1,"height":191.7,"data":{"values":[]},"mark":"text"},
{"bounds":"flush","spacing":0,"resolve":{"scale":{"color":"independent","fill":"independent","size":"independent"},"legend":{"color":"independent","fill":"independent"}},"hconcat":[
{"width":100,"height":98,"title":{"text":"Binders","offset":10,"fontSize":9.5},"layer":[{"data":{"name":"pieB"},"mark":{"type":"arc","filled":true,"outerRadius":48,"stroke":"#111","strokeWidth":0.7},"encoding":{"theta":{"field":"v","type":"quantitative"},"order":{"field":"i","type":"quantitative"},"fill":{"field":"a","type":"nominal","scale":{"domain":["16.35% \u00a0HLA-A*01:01","31.06% \u00a0HLA-A*03:01","23.84% \u00a0HLA-B*08:01","19.11% \u00a0HLA-B*57:01","9.22% \u00a0HLA-C*06:02/HLA-C*07:01","0.41% \u00a0Outliers"],"range":["#0d0a07","#e6005c","#007f83","#3f2172","#8e68a9","#7fc8f0"]},"legend":{"orient":"none","legendX":117,"legendY":2,"title":null,"symbolType":"M-1,-0.5H1V0.5H-1Z","symbolSize":121,"clipHeight":9,"rowPadding":0,"labelFontSize":7.8,"labelOffset":6,"labelLimit":200,"symbolStrokeColor":"#111","symbolStrokeWidth":0.7}}}},{"data":{"values":[{"t":"Total = 16414"}]},"mark":{"type":"text","dy":68.3,"fontSize":8,"fontWeight":"bold"},"encoding":{"text":{"field":"t","type":"nominal"}}}]}]},
{"width":1,"height":15,"data":{"values":[]},"mark":"text"},
{"bounds":"flush","spacing":0,"resolve":{"scale":{"color":"independent","fill":"independent","size":"independent"},"legend":{"color":"independent","fill":"independent"}},"hconcat":[
{"width":268,"height":10,"data":{"values":[]},"mark":"text"},
{"width":88.5,"height":70,"title":{"text":["HLA-A*01:01","n = 2684"],"dx":-11,"offset":-2,"fontSize":7.8,"fontWeight":"normal","lineHeight":9.5,"color":"#222"},"encoding":{"color":{"field":"t","type":"nominal","scale":{"domain":["K","R","H","D","E","P","S","T","Y","G","N","Q","A","L","V","F","W"],"range":["#0000e6","#0000e6","#0000e6","#e60000","#e60000","#e60000","#00cc00","#00cc00","#00cc00","#00cc00","#00cc00","#00cc00","black","black","black","black","black"]},"legend":null}},"layer":[{"data":{"name":"logoPath"},"transform":[{"filter":{"field":"k","equal":"L1"}}],"mark":{"type":"line","strokeWidth":2},"encoding":{"x":{"field":"x","type":"quantitative","scale":{"domain":[0,12.12],"nice":false},"axis":{"style":"lx","title":null,"values":[0,1,2,3,4,5,6,7,8,9,10],"labelExpr":"datum.value==0?'N':datum.value==10?'C':datum.label"}},"y":{"field":"y","type":"quantitative","scale":{"domain":[-0.6,2.55],"nice":false},"axis":{"style":"ly","title":"Bits","values":[-0.5,0,0.5,1,1.5,2,2.5],"format":".1f"}},"detail":{"field":"g","type":"nominal"},"order":{"value":null}}},{"data":{"name":"logoText"},"transform":[{"filter":{"field":"k","oneOf":["L1"]}}],"mark":{"type":"text","fontWeight":"bold","baseline":"middle"},"encoding":{"x":{"field":"p","type":"quantitative"},"y":{"field":"b","type":"quantitative"},"text":{"field":"t","type":"nominal"},"size":{"field":"h","type":"quantitative","scale":{"domain":[0,1],"range":[0,30.5]},"legend":null}}}]},
{"width":88.5,"height":70,"title":{"text":["HLA-A*03:01","n = 5099"],"dx":-11,"offset":-2,"fontSize":7.8,"fontWeight":"normal","lineHeight":9.5,"color":"#222"},"encoding":{"color":{"field":"t","type":"nominal","scale":{"domain":["K","R","H","D","E","P","S","T","Y","G","N","Q","A","L","V","F","W"],"range":["#0000e6","#0000e6","#0000e6","#e60000","#e60000","#e60000","#00cc00","#00cc00","#00cc00","#00cc00","#00cc00","#00cc00","black","black","black","black","black"]},"legend":null}},"layer":[{"data":{"name":"logoPath"},"transform":[{"filter":{"field":"k","equal":"L2"}}],"mark":{"type":"line","strokeWidth":2},"encoding":{"x":{"field":"x","type":"quantitative","scale":{"domain":[0,12.12],"nice":false},"axis":{"style":"lx","title":null,"values":[0,1,2,3,4,5,6,7,8,9,10],"labelExpr":"datum.value==0?'N':datum.value==10?'C':datum.label"}},"y":{"field":"y","type":"quantitative","scale":{"domain":[-0.6,2.55],"nice":false},"axis":{"style":"ly","title":"Bits","values":[-0.5,0,0.5,1,1.5,2,2.5],"format":".1f"}},"detail":{"field":"g","type":"nominal"},"order":{"value":null}}},{"data":{"name":"logoText"},"transform":[{"filter":{"field":"k","oneOf":["L2"]}}],"mark":{"type":"text","fontWeight":"bold","baseline":"middle"},"encoding":{"x":{"field":"p","type":"quantitative"},"y":{"field":"b","type":"quantitative"},"text":{"field":"t","type":"nominal"},"size":{"field":"h","type":"quantitative","scale":{"domain":[0,1],"range":[0,30.5]},"legend":null}}}]},
{"width":88.5,"height":70,"title":{"text":["HLA-B*08:01","n = 3913"],"dx":-11,"offset":-2,"fontSize":7.8,"fontWeight":"normal","lineHeight":9.5,"color":"#222"},"encoding":{"color":{"field":"t","type":"nominal","scale":{"domain":["K","R","H","D","E","P","S","T","Y","G","N","Q","A","L","V","F","W"],"range":["#0000e6","#0000e6","#0000e6","#e60000","#e60000","#e60000","#00cc00","#00cc00","#00cc00","#00cc00","#00cc00","#00cc00","black","black","black","black","black"]},"legend":null}},"layer":[{"data":{"name":"logoPath"},"transform":[{"filter":{"field":"k","equal":"L3"}}],"mark":{"type":"line","strokeWidth":2},"encoding":{"x":{"field":"x","type":"quantitative","scale":{"domain":[0,12.12],"nice":false},"axis":{"style":"lx","title":null,"values":[0,1,2,3,4,5,6,7,8,9,10],"labelExpr":"datum.value==0?'N':datum.value==10?'C':datum.label"}},"y":{"field":"y","type":"quantitative","scale":{"domain":[-0.6,2.55],"nice":false},"axis":{"style":"ly","title":"Bits","values":[-0.5,0,0.5,1,1.5,2,2.5],"format":".1f"}},"detail":{"field":"g","type":"nominal"},"order":{"value":null}}},{"data":{"name":"logoText"},"transform":[{"filter":{"field":"k","oneOf":["L3"]}}],"mark":{"type":"text","fontWeight":"bold","baseline":"middle"},"encoding":{"x":{"field":"p","type":"quantitative"},"y":{"field":"b","type":"quantitative"},"text":{"field":"t","type":"nominal"},"size":{"field":"h","type":"quantitative","scale":{"domain":[0,1],"range":[0,30.5]},"legend":null}}}]},
{"width":88.5,"height":70,"title":{"text":["HLA-B*57:01","n = 3137"],"dx":-11,"offset":-2,"fontSize":7.8,"fontWeight":"normal","lineHeight":9.5,"color":"#222"},"encoding":{"color":{"field":"t","type":"nominal","scale":{"domain":["K","R","H","D","E","P","S","T","Y","G","N","Q","A","L","V","F","W"],"range":["#0000e6","#0000e6","#0000e6","#e60000","#e60000","#e60000","#00cc00","#00cc00","#00cc00","#00cc00","#00cc00","#00cc00","black","black","black","black","black"]},"legend":null}},"layer":[{"data":{"name":"logoPath"},"transform":[{"filter":{"field":"k","equal":"L4"}}],"mark":{"type":"line","strokeWidth":2},"encoding":{"x":{"field":"x","type":"quantitative","scale":{"domain":[0,12.12],"nice":false},"axis":{"style":"lx","title":null,"values":[0,1,2,3,4,5,6,7,8,9,10],"labelExpr":"datum.value==0?'N':datum.value==10?'C':datum.label"}},"y":{"field":"y","type":"quantitative","scale":{"domain":[-0.6,2.55],"nice":false},"axis":{"style":"ly","title":"Bits","values":[-0.5,0,0.5,1,1.5,2,2.5],"format":".1f"}},"detail":{"field":"g","type":"nominal"},"order":{"value":null}}},{"data":{"name":"logoText"},"transform":[{"filter":{"field":"k","oneOf":["L4","L4b"]}}],"mark":{"type":"text","fontWeight":"bold","baseline":"middle"},"encoding":{"x":{"field":"p","type":"quantitative"},"y":{"field":"b","type":"quantitative"},"text":{"field":"t","type":"nominal"},"size":{"field":"h","type":"quantitative","scale":{"domain":[0,1],"range":[0,30.5]},"legend":null}}}]},
{"width":88.5,"height":70,"title":{"text":["HLA-C*06:02/HLA-C*07:01","n = 1513"],"dx":-11,"offset":-2,"fontSize":7.8,"fontWeight":"normal","lineHeight":9.5,"color":"#222"},"encoding":{"color":{"field":"t","type":"nominal","scale":{"domain":["K","R","H","D","E","P","S","T","Y","G","N","Q","A","L","V","F","W"],"range":["#0000e6","#0000e6","#0000e6","#e60000","#e60000","#e60000","#00cc00","#00cc00","#00cc00","#00cc00","#00cc00","#00cc00","black","black","black","black","black"]},"legend":null}},"layer":[{"data":{"name":"logoPath"},"transform":[{"filter":{"field":"k","equal":"L5"}}],"mark":{"type":"line","strokeWidth":2},"encoding":{"x":{"field":"x","type":"quantitative","scale":{"domain":[0,12.12],"nice":false},"axis":{"style":"lx","title":null,"values":[0,1,2,3,4,5,6,7,8,9,10],"labelExpr":"datum.value==0?'N':datum.value==10?'C':datum.label"}},"y":{"field":"y","type":"quantitative","scale":{"domain":[-0.6,2.55],"nice":false},"axis":{"style":"ly","title":"Bits","values":[-0.5,0,0.5,1,1.5,2,2.5],"format":".1f"}},"detail":{"field":"g","type":"nominal"},"order":{"value":null}}},{"data":{"name":"logoText"},"transform":[{"filter":{"field":"k","oneOf":["L5"]}}],"mark":{"type":"text","fontWeight":"bold","baseline":"middle"},"encoding":{"x":{"field":"p","type":"quantitative"},"y":{"field":"b","type":"quantitative"},"text":{"field":"t","type":"nominal"},"size":{"field":"h","type":"quantitative","scale":{"domain":[0,1],"range":[0,30.5]},"legend":null}}}]},
{"width":27.5,"height":70,"data":{"values":[{"t":"Outliers\nn = 68"}]},"mark":{"type":"text","lineBreak":"\n","fontSize":7.8,"dx":-3,"dy":25.3,"lineHeight":9.5,"baseline":"middle"},"encoding":{"text":{"field":"t","type":"nominal"}}}]},
{"width":1,"height":130.3,"data":{"values":[]},"mark":"text"},
{"bounds":"flush","spacing":0,"hconcat":[
{"width":20,"height":20,"data":{"values":[{"t":"C"}]},"mark":{"type":"text","fontSize":15,"fontWeight":"bold","dx":-3,"dy":3.7},"encoding":{"text":{"field":"t","type":"nominal"}}},
{"width":700,"height":20,"data":{"values":[{"t":"Hybrid DIA (nuORF database)"}]},"mark":{"type":"text","font":"Open Sans","fontSize":13.7,"color":"#333"},"encoding":{"text":{"field":"t","type":"nominal"}}}]},
{"width":1,"height":69,"data":{"values":[]},"mark":"text"},
{"bounds":"flush","spacing":0,"resolve":{"scale":{"color":"independent","fill":"independent","size":"independent"},"legend":{"color":"independent","fill":"independent"}},"hconcat":[
{"width":59,"height":10,"data":{"values":[]},"mark":"text"},
{"width":168,"height":110.7,"title":{"text":"Peptide ID","offset":8.5},"data":{"name":"pepC"},"encoding":{"x":{"field":"w","type":"ordinal","scale":{"paddingInner":0.32,"paddingOuter":0.36},"axis":{"title":"Tissue weight, mg","titlePadding":14}},"y":{"field":"v","type":"quantitative","scale":{"domain":[0,15000],"nice":false},"axis":{"title":"No. of unique peptides","titlePadding":20,"values":[0,2500,5000,7500,10000,12500,15000],"labelExpr":"datum.value%5000==0?''+datum.value:''","tickSize":{"condition":{"test":"datum.value%5000==0","value":5},"value":3}}}},"layer":[{"mark":"bar","encoding":{"color":{"field":"w","type":"ordinal","scale":{"domain":[5,12,21,24,25,40],"range":["#0d0a07","#e6005c","#007f83","#3f2172","#8e68a9","#7fc8f0"]},"legend":null}}},{"mark":{"type":"text","angle":270,"align":"right","baseline":"middle","dx":-2,"fontSize":9},"encoding":{"text":{"field":"v","type":"quantitative","format":"d"},"color":{"condition":{"test":"indexof([5,21,24],datum.w)>=0","value":"white"},"value":"black"}}}]},
{"width":75,"height":10,"data":{"values":[]},"mark":"text"},
{"width":170,"height":113,"title":{"text":"HLA-I binder","offset":8},"encoding":{"y":{"field":"v","type":"quantitative","scale":{"domain":[50,100],"nice":false},"axis":{"title":"Percentage, %","titlePadding":26,"values":[50,55,60,65,70,75,80,85,90,95,100],"labelExpr":"datum.value%10==0?''+datum.value:''","tickSize":{"condition":{"test":"datum.value%10==0","value":5},"value":3}}}},"layer":[{"data":{"name":"cut"},"mark":{"type":"rule","strokeDash":[2,2],"strokeWidth":0.7,"color":"black"},"encoding":{}},{"data":{"name":"hlaC"},"mark":{"type":"line","color":"black","strokeWidth":1},"encoding":{"x":{"field":"w","type":"ordinal","scale":{"type":"point","padding":0.65},"axis":{"title":"Tissue weight, mg","titlePadding":10}}}},{"data":{"name":"hlaC"},"mark":{"type":"point","filled":true,"color":"#e8000f","size":20,"opacity":1},"encoding":{"x":{"field":"w","type":"ordinal"}}}]},
{"width":74,"height":10,"data":{"values":[]},"mark":"text"},
{"width":171,"height":114,"title":{"text":"Length distribution","offset":8},"data":{"name":"lenC"},"mark":"bar","encoding":{"x":{"field":"l","type":"ordinal","scale":{"paddingInner":0.14,"paddingOuter":0.05},"axis":{"title":"Peptide length, aa","titlePadding":9}},"xOffset":{"field":"g","type":"nominal","sort":["5 mg","12 mg","21 mg","24 mg","25 mg","40 mg"],"scale":{"paddingInner":0,"paddingOuter":0}},"y":{"field":"v","type":"quantitative","scale":{"domain":[0,0.8],"nice":false},"axis":{"title":"Fractions","titlePadding":30,"values":[0,0.2,0.4,0.6,0.8],"format":".1f"}},"color":{"field":"g","type":"nominal","scale":{"domain":["5 mg","12 mg","21 mg","24 mg","25 mg","40 mg"],"range":["#0d0a07","#e6005c","#007f83","#3f2172","#8e68a9","#7fc8f0"]},"legend":{"orient":"none","legendX":123,"legendY":2.7,"title":null,"symbolType":"M-1,-0.5H1V0.5H-1Z","symbolSize":144,"clipHeight":12,"rowPadding":3.5,"labelFontSize":8.5,"labelOffset":7}}}}]},
{"width":1,"height":191.3,"data":{"values":[]},"mark":"text"},
{"bounds":"flush","spacing":0,"resolve":{"scale":{"color":"independent","fill":"independent","size":"independent"},"legend":{"color":"independent","fill":"independent"}},"hconcat":[
{"width":98.6,"height":98,"title":{"text":"Binders","offset":10,"fontSize":9.5},"layer":[{"data":{"name":"pieC"},"mark":{"type":"arc","filled":true,"outerRadius":48,"stroke":"#111","strokeWidth":0.7},"encoding":{"theta":{"field":"v","type":"quantitative"},"order":{"field":"i","type":"quantitative"},"fill":{"field":"a","type":"nominal","scale":{"domain":["16.18% \u00a0HLA-A*01:01","32.37% \u00a0HLA-A*03:01","22.97% \u00a0HLA-B*08:01","19.22% \u00a0HLA-B*57:01","8.87% \u00a0HLA-C*06:02/HLA-C*07:01","0.38% \u00a0Outliers"],"range":["#0d0a07","#e6005c","#007f83","#3f2172","#8e68a9","#7fc8f0"]},"legend":{"orient":"none","legendX":117,"legendY":2,"title":null,"symbolType":"M-1,-0.5H1V0.5H-1Z","symbolSize":121,"clipHeight":9,"rowPadding":0,"labelFontSize":7.8,"labelOffset":6,"labelLimit":200,"symbolStrokeColor":"#111","symbolStrokeWidth":0.7}}}},{"data":{"values":[{"t":"Total=15887"}]},"mark":{"type":"text","dy":65.5,"fontSize":8,"fontWeight":"bold"},"encoding":{"text":{"field":"t","type":"nominal"}}}]}]},
{"width":1,"height":16.7,"data":{"values":[]},"mark":"text"},
{"bounds":"flush","spacing":0,"resolve":{"scale":{"color":"independent","fill":"independent","size":"independent"},"legend":{"color":"independent","fill":"independent"}},"hconcat":[
{"width":268,"height":10,"data":{"values":[]},"mark":"text"},
{"width":88.5,"height":70,"title":{"text":["HLA-A*01:01","n = 2571"],"dx":-11,"offset":-2,"fontSize":7.8,"fontWeight":"normal","lineHeight":9.5,"color":"#222"},"encoding":{"color":{"field":"t","type":"nominal","scale":{"domain":["K","R","H","D","E","P","S","T","Y","G","N","Q","A","L","V","F","W"],"range":["#0000e6","#0000e6","#0000e6","#e60000","#e60000","#e60000","#00cc00","#00cc00","#00cc00","#00cc00","#00cc00","#00cc00","black","black","black","black","black"]},"legend":null}},"layer":[{"data":{"name":"logoPath"},"transform":[{"filter":{"field":"k","equal":"L1"}}],"mark":{"type":"line","strokeWidth":2},"encoding":{"x":{"field":"x","type":"quantitative","scale":{"domain":[0,12.12],"nice":false},"axis":{"style":"lx","title":null,"values":[0,1,2,3,4,5,6,7,8,9,10],"labelExpr":"datum.value==0?'N':datum.value==10?'C':datum.label"}},"y":{"field":"y","type":"quantitative","scale":{"domain":[-0.6,2.55],"nice":false},"axis":{"style":"ly","title":"Bits","values":[-0.5,0,0.5,1,1.5,2,2.5],"format":".1f"}},"detail":{"field":"g","type":"nominal"},"order":{"value":null}}},{"data":{"name":"logoText"},"transform":[{"filter":{"field":"k","oneOf":["L1"]}}],"mark":{"type":"text","fontWeight":"bold","baseline":"middle"},"encoding":{"x":{"field":"p","type":"quantitative"},"y":{"field":"b","type":"quantitative"},"text":{"field":"t","type":"nominal"},"size":{"field":"h","type":"quantitative","scale":{"domain":[0,1],"range":[0,30.5]},"legend":null}}}]},
{"width":88.5,"height":70,"title":{"text":["HLA-A*03:01","n = 5143"],"dx":-11,"offset":-2,"fontSize":7.8,"fontWeight":"normal","lineHeight":9.5,"color":"#222"},"encoding":{"color":{"field":"t","type":"nominal","scale":{"domain":["K","R","H","D","E","P","S","T","Y","G","N","Q","A","L","V","F","W"],"range":["#0000e6","#0000e6","#0000e6","#e60000","#e60000","#e60000","#00cc00","#00cc00","#00cc00","#00cc00","#00cc00","#00cc00","black","black","black","black","black"]},"legend":null}},"layer":[{"data":{"name":"logoPath"},"transform":[{"filter":{"field":"k","equal":"L2"}}],"mark":{"type":"line","strokeWidth":2},"encoding":{"x":{"field":"x","type":"quantitative","scale":{"domain":[0,12.12],"nice":false},"axis":{"style":"lx","title":null,"values":[0,1,2,3,4,5,6,7,8,9,10],"labelExpr":"datum.value==0?'N':datum.value==10?'C':datum.label"}},"y":{"field":"y","type":"quantitative","scale":{"domain":[-0.6,2.55],"nice":false},"axis":{"style":"ly","title":"Bits","values":[-0.5,0,0.5,1,1.5,2,2.5],"format":".1f"}},"detail":{"field":"g","type":"nominal"},"order":{"value":null}}},{"data":{"name":"logoText"},"transform":[{"filter":{"field":"k","oneOf":["L2"]}}],"mark":{"type":"text","fontWeight":"bold","baseline":"middle"},"encoding":{"x":{"field":"p","type":"quantitative"},"y":{"field":"b","type":"quantitative"},"text":{"field":"t","type":"nominal"},"size":{"field":"h","type":"quantitative","scale":{"domain":[0,1],"range":[0,30.5]},"legend":null}}}]},
{"width":88.5,"height":70,"title":{"text":["HLA-B*08:01","n = 3650"],"dx":-11,"offset":-2,"fontSize":7.8,"fontWeight":"normal","lineHeight":9.5,"color":"#222"},"encoding":{"color":{"field":"t","type":"nominal","scale":{"domain":["K","R","H","D","E","P","S","T","Y","G","N","Q","A","L","V","F","W"],"range":["#0000e6","#0000e6","#0000e6","#e60000","#e60000","#e60000","#00cc00","#00cc00","#00cc00","#00cc00","#00cc00","#00cc00","black","black","black","black","black"]},"legend":null}},"layer":[{"data":{"name":"logoPath"},"transform":[{"filter":{"field":"k","equal":"L3"}}],"mark":{"type":"line","strokeWidth":2},"encoding":{"x":{"field":"x","type":"quantitative","scale":{"domain":[0,12.12],"nice":false},"axis":{"style":"lx","title":null,"values":[0,1,2,3,4,5,6,7,8,9,10],"labelExpr":"datum.value==0?'N':datum.value==10?'C':datum.label"}},"y":{"field":"y","type":"quantitative","scale":{"domain":[-0.6,2.55],"nice":false},"axis":{"style":"ly","title":"Bits","values":[-0.5,0,0.5,1,1.5,2,2.5],"format":".1f"}},"detail":{"field":"g","type":"nominal"},"order":{"value":null}}},{"data":{"name":"logoText"},"transform":[{"filter":{"field":"k","oneOf":["L3"]}}],"mark":{"type":"text","fontWeight":"bold","baseline":"middle"},"encoding":{"x":{"field":"p","type":"quantitative"},"y":{"field":"b","type":"quantitative"},"text":{"field":"t","type":"nominal"},"size":{"field":"h","type":"quantitative","scale":{"domain":[0,1],"range":[0,30.5]},"legend":null}}}]},
{"width":88.5,"height":70,"title":{"text":["HLA-B*57:01","n = 3054"],"dx":-11,"offset":-2,"fontSize":7.8,"fontWeight":"normal","lineHeight":9.5,"color":"#222"},"encoding":{"color":{"field":"t","type":"nominal","scale":{"domain":["K","R","H","D","E","P","S","T","Y","G","N","Q","A","L","V","F","W"],"range":["#0000e6","#0000e6","#0000e6","#e60000","#e60000","#e60000","#00cc00","#00cc00","#00cc00","#00cc00","#00cc00","#00cc00","black","black","black","black","black"]},"legend":null}},"layer":[{"data":{"name":"logoPath"},"transform":[{"filter":{"field":"k","equal":"L4"}}],"mark":{"type":"line","strokeWidth":2},"encoding":{"x":{"field":"x","type":"quantitative","scale":{"domain":[0,12.12],"nice":false},"axis":{"style":"lx","title":null,"values":[0,1,2,3,4,5,6,7,8,9,10],"labelExpr":"datum.value==0?'N':datum.value==10?'C':datum.label"}},"y":{"field":"y","type":"quantitative","scale":{"domain":[-0.6,2.55],"nice":false},"axis":{"style":"ly","title":"Bits","values":[-0.5,0,0.5,1,1.5,2,2.5],"format":".1f"}},"detail":{"field":"g","type":"nominal"},"order":{"value":null}}},{"data":{"name":"logoText"},"transform":[{"filter":{"field":"k","oneOf":["L4","L4b"]}}],"mark":{"type":"text","fontWeight":"bold","baseline":"middle"},"encoding":{"x":{"field":"p","type":"quantitative"},"y":{"field":"b","type":"quantitative"},"text":{"field":"t","type":"nominal"},"size":{"field":"h","type":"quantitative","scale":{"domain":[0,1],"range":[0,30.5]},"legend":null}}}]},
{"width":88.5,"height":70,"title":{"text":["HLA-C*06:02/HLA-C*07:01","n = 1409"],"dx":-11,"offset":-2,"fontSize":7.8,"fontWeight":"normal","lineHeight":9.5,"color":"#222"},"encoding":{"color":{"field":"t","type":"nominal","scale":{"domain":["K","R","H","D","E","P","S","T","Y","G","N","Q","A","L","V","F","W"],"range":["#0000e6","#0000e6","#0000e6","#e60000","#e60000","#e60000","#00cc00","#00cc00","#00cc00","#00cc00","#00cc00","#00cc00","black","black","black","black","black"]},"legend":null}},"layer":[{"data":{"name":"logoPath"},"transform":[{"filter":{"field":"k","equal":"L5"}}],"mark":{"type":"line","strokeWidth":2},"encoding":{"x":{"field":"x","type":"quantitative","scale":{"domain":[0,12.12],"nice":false},"axis":{"style":"lx","title":null,"values":[0,1,2,3,4,5,6,7,8,9,10],"labelExpr":"datum.value==0?'N':datum.value==10?'C':datum.label"}},"y":{"field":"y","type":"quantitative","scale":{"domain":[-0.6,2.55],"nice":false},"axis":{"style":"ly","title":"Bits","values":[-0.5,0,0.5,1,1.5,2,2.5],"format":".1f"}},"detail":{"field":"g","type":"nominal"},"order":{"value":null}}},{"data":{"name":"logoText"},"transform":[{"filter":{"field":"k","oneOf":["L5"]}}],"mark":{"type":"text","fontWeight":"bold","baseline":"middle"},"encoding":{"x":{"field":"p","type":"quantitative"},"y":{"field":"b","type":"quantitative"},"text":{"field":"t","type":"nominal"},"size":{"field":"h","type":"quantitative","scale":{"domain":[0,1],"range":[0,30.5]},"legend":null}}}]},
{"width":27.5,"height":70,"data":{"values":[{"t":"Outliers\nn = 60"}]},"mark":{"type":"text","lineBreak":"\n","fontSize":7.8,"dx":-3,"dy":25,"lineHeight":9.5,"baseline":"middle"},"encoding":{"text":{"field":"t","type":"nominal"}}}]}
]}
